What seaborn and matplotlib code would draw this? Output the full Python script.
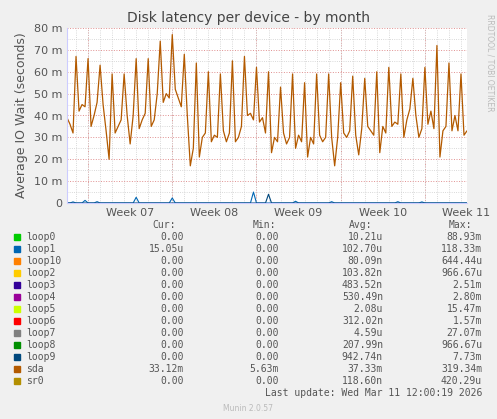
import numpy as np
import pandas as pd
import matplotlib
matplotlib.use("Agg")
import matplotlib.pyplot as plt
import seaborn as sns

# sda latency in ms, 4 samples per day
sda = [39, 36, 32, 67, 42, 45, 44, 66, 35, 40, 46, 63, 45, 33, 20, 59,
       32, 35, 38, 59, 40, 27, 40, 66, 34, 38, 41, 66, 35, 38, 50, 74,
       46, 50, 48, 77, 52, 48, 44, 68, 40, 17, 25, 64, 21, 30, 32, 60,
       28, 31, 30, 59, 33, 28, 32, 65, 28, 30, 35, 67, 40, 41, 38, 62,
       37, 39, 32, 60, 23, 30, 28, 53, 32, 27, 30, 59, 25, 31, 28, 55,
       21, 30, 27, 59, 31, 28, 30, 59, 30, 17, 30, 55, 32, 30, 33, 58,
       31, 22, 34, 57, 35, 33, 31, 60, 23, 35, 32, 62, 35, 37, 36, 59,
       30, 38, 43, 57, 40, 30, 34, 62, 36, 42, 34, 72, 21, 33, 35, 64,
       33, 40, 33, 59, 31, 33]
# loop1 spikes: sample index -> ms
loop1_spikes = {2: 0.5, 6: 1.2, 10: 0.6, 23: 2.6, 35: 2.3, 62: 5.0, 76: 0.8, 88: 0.6, 110: 0.6, 118: 0.5}
loop9_spikes = {67: 4.0}

names = ["loop0", "loop1", "loop10", "loop2", "loop3", "loop4", "loop5", "loop6",
         "loop7", "loop8", "loop9", "sda", "sr0"]
colors = ["#00cc00", "#0066b3", "#ff8000", "#ffcc00", "#330099", "#990099", "#ccff00",
          "#ff0000", "#808080", "#008f00", "#00487d", "#b35a00", "#b38f00"]
cur = ["0.00", "15.05u", "0.00", "0.00", "0.00", "0.00", "0.00", "0.00", "0.00", "0.00", "0.00", "33.12m", "0.00"]
mins = ["0.00"] * 11 + ["5.63m", "0.00"]
avg = ["10.21u", "102.70u", "80.09n", "103.82n", "483.52n", "530.49n", "2.08u", "312.02n",
       "4.59u", "207.99n", "942.74n", "37.33m", "118.60n"]
mx = ["88.93m", "118.33m", "644.44u", "966.67u", "2.51m", "2.80m", "15.47m", "1.57m",
      "27.07m", "966.67u", "7.73m", "319.34m", "420.29u"]
week_labels = ["Week 07", "Week 08", "Week 09", "Week 10", "Week 11"]

step = 0.25
t = np.arange(len(sda)) * step
l1 = np.zeros(len(sda))
for i, v in loop1_spikes.items():
    l1[i] = v
l9 = np.zeros(len(sda))
for i, v in loop9_spikes.items():
    l9[i] = v
df = pd.DataFrame({"t": t, "sda": sda, "loop1": l1, "loop9": l9})

sns.set_style("white")
fig = plt.figure(figsize=(4.97, 4.19), dpi=100, facecolor="#f0f0f0")
ax = fig.add_axes([67 / 497, 1 - 203 / 419, 400 / 497, 175 / 419])
ax.set_facecolor("white")

sns.lineplot(data=df, x="t", y="loop1", ax=ax, color=colors[1], lw=0.8)
sns.lineplot(data=df, x="t", y="loop9", ax=ax, color=colors[10], lw=0.8)
sns.lineplot(data=df, x="t", y="sda", ax=ax, color=colors[11], lw=0.9)

xmax = t[-1]
ax.set_xlim(0, xmax)
ax.set_ylim(0, 80)
ax.set_yticks(range(0, 81, 10))
ax.set_yticklabels(["0"] + [f"{v} m" for v in range(10, 81, 10)])
ax.set_yticks(np.arange(0, 80, 5), minor=True)
majors = [1.75 + 7 * k for k in range(5)]
ax.set_xticks([m + 3.5 for m in majors[:4]] + [xmax - 0.1])
ax.set_xticklabels(week_labels)
ax.set_xticks(np.arange(0.75, xmax, 1.0), minor=True)
ax.tick_params(axis="both", length=0, labelsize=8, colors="#555555")
ax.grid(True, which="minor", color="#cccccc", ls=":", lw=0.6)
ax.grid(True, which="major", axis="y", color="#e09090", ls=":", lw=0.7)
for m in majors:
    if m < xmax:
        ax.axvline(m, color="#e09090", ls=":", lw=0.7, zorder=0)
for s in ["top", "right"]:
    ax.spines[s].set_visible(False)
ax.spines["left"].set_color("#ccccff")
ax.spines["bottom"].set_color("#ccccff")
ax.set_xlabel("")
ax.set_ylabel("Average IO Wait (seconds)", fontsize=9, color="#555555")
fig.text(0.5, 1 - 18 / 419, "Disk latency per device - by month", ha="center", va="center",
         fontsize=10, color="#444444")
fig.text(0.985, 0.85, "RRDTOOL / TOBI OETIKER", rotation=270, ha="center", va="center",
         fontsize=5.5, color="#bbbbbb")

mono = "DejaVu Sans Mono"
fs = 7
def row_y(i):
    return 1 - (237 + 12 * i) / 419
fig.text(176 / 497, row_y(-1), "Cur:", ha="right", va="center", family=mono, fontsize=fs, color="#555555")
fig.text(276 / 497, row_y(-1), "Min:", ha="right", va="center", family=mono, fontsize=fs, color="#555555")
fig.text(372 / 497, row_y(-1), "Avg:", ha="right", va="center", family=mono, fontsize=fs, color="#555555")
fig.text(472 / 497, row_y(-1), "Max:", ha="right", va="center", family=mono, fontsize=fs, color="#555555")
for i, n in enumerate(names):
    y = row_y(i)
    fig.patches.append(plt.Rectangle((14 / 497, y - 3 / 419), 6 / 497, 6 / 419,
                                     transform=fig.transFigure, color=colors[i]))
    fig.text(26 / 497, y, n, va="center", family=mono, fontsize=fs, color="#555555")
    fig.text(184 / 497, y, cur[i], ha="right", va="center", family=mono, fontsize=fs, color="#555555")
    fig.text(279 / 497, y, mins[i], ha="right", va="center", family=mono, fontsize=fs, color="#555555")
    fig.text(383 / 497, y, avg[i], ha="right", va="center", family=mono, fontsize=fs, color="#555555")
    fig.text(482 / 497, y, mx[i], ha="right", va="center", family=mono, fontsize=fs, color="#555555")
fig.text(482 / 497, row_y(13), "Last update: Wed Mar 11 12:00:19 2026", ha="right", va="center",
         family=mono, fontsize=fs, color="#555555")
fig.text(248 / 497, 1 - 408 / 419, "Munin 2.0.57", ha="center", va="center", fontsize=5.5, color="#bbbbbb")

fig.savefig("out.png", dpi=100, facecolor=fig.get_facecolor())
